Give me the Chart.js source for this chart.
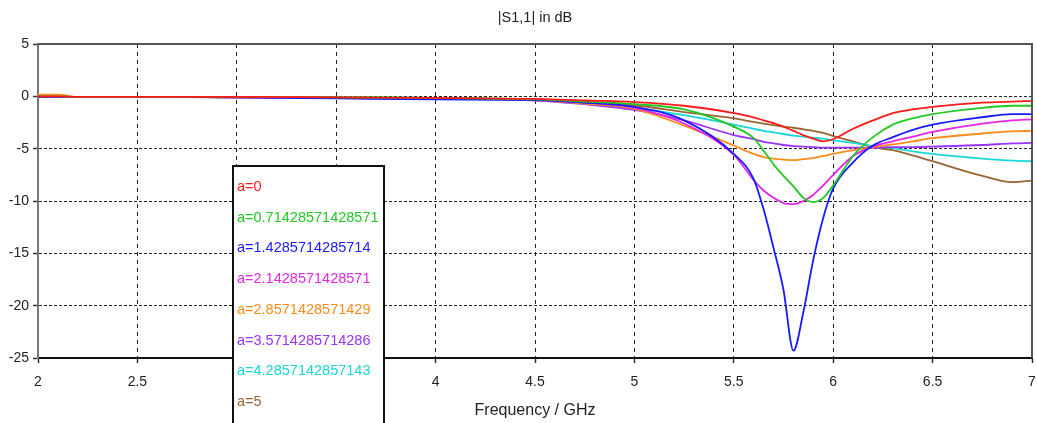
<!DOCTYPE html>
<html>
<head>
<meta charset="utf-8">
<title>|S1,1| in dB</title>
<script src="https://cdn.jsdelivr.net/npm/chart.js@4.4.1/dist/chart.umd.min.js"></script>
<style>
    html, body { margin: 0; padding: 0; background: #fff; }
    #wrap { position: relative; width: 1037px; height: 423px; }
</style>
</head>
<body>
<div id="wrap"><canvas id="s11Chart"></canvas></div>
<script>
// ==========================
// Data
// ==========================
const freqGHz = [2, 2.1, 2.2, 2.5, 3, 3.5, 4, 4.5, 4.75, 5, 5.25, 5.5, 5.6, 5.65, 5.7, 5.75, 5.8, 5.85, 5.9, 5.95, 6, 6.1, 6.2, 6.3, 6.4, 6.5, 6.75, 6.9, 7];

const xTicks = [2, 2.5, 3, 3.5, 4, 4.5, 5, 5.5, 6, 6.5, 7];
const yTicks = [5, 0, -5, -10, -15, -20, -25];

const seriesLabels = [
    "a=0", "a=0.71428571428571", "a=1.4285714285714", "a=2.1428571428571",
    "a=2.8571428571429", "a=3.5714285714286", "a=4.2857142857143", "a=5"
];
const seriesColors = ["#ff1a1a", "#22c922", "#1a1aff", "#e626e6", "#ff8c1a", "#9933ff", "#1ad6d6", "#996633"];

const s11_a0   = [0, 0, -0.05, -0.05, -0.05, -0.1, -0.15, -0.25, -0.4, -0.55, -0.9, -1.6, -2.0, -2.3, -2.55, -2.9, -3.3, -3.7, -4.05, -4.3, -4.1, -3.1, -2.3, -1.6, -1.25, -1.0, -0.6, -0.5, -0.45];
const s11_a071 = [0, 0, -0.05, -0.05, -0.05, -0.1, -0.15, -0.3, -0.5, -0.75, -1.25, -2.9, -4.0, -5.2, -6.5, -7.6, -8.6, -9.7, -10.1, -9.7, -8.5, -5.7, -3.9, -2.7, -2.1, -1.7, -1.1, -0.9, -0.9];
const s11_a143 = [-0.05, -0.05, -0.05, -0.05, -0.1, -0.2, -0.3, -0.35, -0.6, -1.0, -2.3, -5.5, -7.9, -10.8, -14.5, -18.5, -24.3, -20.6, -15.6, -11.6, -8.8, -6.3, -4.7, -3.9, -3.2, -2.7, -2.0, -1.7, -1.7];
const s11_a214 = [-0.05, -0.05, -0.05, -0.05, -0.1, -0.15, -0.2, -0.35, -0.6, -1.1, -2.6, -5.6, -8.0, -9.0, -9.7, -10.2, -10.3, -10.0, -9.4, -8.5, -7.5, -5.7, -4.8, -4.3, -3.85, -3.4, -2.6, -2.3, -2.2];
const s11_a286 = [0.15, 0.15, -0.05, -0.05, -0.1, -0.15, -0.2, -0.35, -0.7, -1.2, -2.8, -4.7, -5.5, -5.8, -5.95, -6.05, -6.1, -6.0, -5.9, -5.7, -5.5, -5.15, -4.85, -4.6, -4.3, -4.0, -3.55, -3.35, -3.3];
const s11_a357 = [-0.05, -0.05, -0.05, -0.05, -0.1, -0.15, -0.2, -0.4, -0.75, -1.3, -2.3, -3.7, -4.1, -4.35, -4.5, -4.65, -4.75, -4.8, -4.85, -4.9, -4.9, -4.9, -4.9, -4.85, -4.85, -4.8, -4.65, -4.5, -4.45];
const s11_a429 = [-0.05, -0.05, -0.05, -0.05, -0.1, -0.15, -0.2, -0.35, -0.6, -1.1, -1.8, -2.7, -3.1, -3.3, -3.45, -3.6, -3.75, -3.85, -3.95, -4.05, -4.2, -4.45, -4.75, -4.95, -5.25, -5.5, -5.95, -6.15, -6.2];
const s11_a5   = [-0.05, -0.05, -0.05, -0.05, -0.1, -0.1, -0.15, -0.3, -0.55, -0.85, -1.5, -2.1, -2.45, -2.6, -2.75, -2.9, -3.0, -3.15, -3.3, -3.5, -3.8, -4.3, -4.85, -5.15, -5.65, -6.2, -7.6, -8.2, -8.05];

const seriesValues = [s11_a0, s11_a071, s11_a143, s11_a214, s11_a286, s11_a357, s11_a429, s11_a5];

const chartTitle = "|S1,1| in dB";
const FONT = "'Liberation Sans', Arial, sans-serif";

// ==========================
// Plot frame (top / right edge) + title over the plot area
// ==========================
const plotFrame = {
    id: "plotFrame",
    afterDatasetsDraw(chart) {
        const { ctx, chartArea: a } = chart;
        ctx.save();
        ctx.strokeStyle = "#555";
        ctx.lineWidth = 2;
        ctx.beginPath();
        ctx.moveTo(a.left, a.top);
        ctx.lineTo(a.right, a.top);
        ctx.lineTo(a.right, a.bottom);
        ctx.stroke();

        ctx.fillStyle = "#222";
        ctx.font = "14.5px " + FONT;
        ctx.textAlign = "center";
        ctx.textBaseline = "middle";
        ctx.fillText(chartTitle, (a.left + a.right) / 2, 18);
        ctx.restore();
    }
};

// ==========================
// Boxed legend sitting on the plot
// ==========================
const boxLegend = {
    id: "boxLegend",
    afterDraw(chart) {
        const ctx = chart.ctx;
        ctx.save();
        ctx.fillStyle = "#fff";
        ctx.fillRect(233, 166, 151, 270);
        ctx.strokeStyle = "#111";
        ctx.lineWidth = 2;
        ctx.strokeRect(233, 166, 151, 270);
        ctx.font = "14.5px " + FONT;
        ctx.textBaseline = "middle";
        chart.data.datasets.forEach((ds, i) => {
            ctx.fillStyle = ds.borderColor;
            ctx.fillText(ds.label, 237, 187 + i * 30.7);
        });
        ctx.restore();
    }
};

const ctx = document.getElementById("s11Chart").getContext("2d");

new Chart(ctx, {
    type: "line",
    data: {
        datasets: seriesValues.map((vals, i) => ({
            label: seriesLabels[i],
            data: freqGHz.map((f, k) => ({ x: f, y: vals[k] })),
            borderColor: seriesColors[i],
            backgroundColor: seriesColors[i],
            borderWidth: 1.8,
            pointRadius: 0,
            cubicInterpolationMode: "monotone",
            fill: false
        }))
    },
    options: {
        responsive: true,
        maintainAspectRatio: false,
        animation: false,
        layout: { padding: { left: 0, right: 5, top: 44, bottom: 0 } },
        plugins: {
            legend: { display: false },
            tooltip: { enabled: false },
            title: { display: false }
        },
        scales: {
            x: {
                type: "linear",
                min: 2,
                max: 7,
                afterBuildTicks: s => { s.ticks = xTicks.map(v => ({ value: v })); },
                afterFit: s => {
                    s.height = 65;
                    s.paddingLeft = 0;
                    s.paddingRight = 0;
                },
                ticks: {
                    color: "#222",
                    font: { family: FONT, size: 14 },
                    padding: 11,
                    maxRotation: 0,
                    autoSkip: false,
                    callback: v => String(v)
                },
                grid: {
                    color: "#222",
                    lineWidth: 1,
                    tickLength: 5,
                    tickColor: "#333",
                    tickWidth: 1.5
                },
                border: { display: true, color: "#111", width: 2, dash: [4, 4] },
                title: {
                    display: true,
                    text: "Frequency / GHz",
                    color: "#222",
                    font: { family: FONT, size: 16 },
                    padding: { top: 0, bottom: 3 }
                }
            },
            y: {
                min: -25,
                max: 5,
                afterBuildTicks: s => { s.ticks = yTicks.map(v => ({ value: v })); },
                afterFit: s => {
                    s.width = 38;
                    s.paddingTop = 0;
                    s.paddingBottom = 0;
                },
                ticks: {
                    color: "#222",
                    font: { family: FONT, size: 14 },
                    padding: 4,
                    callback: v => String(v)
                },
                grid: {
                    color: "#222",
                    lineWidth: 1,
                    tickLength: 5,
                    tickColor: "#333",
                    tickWidth: 1.5
                },
                border: { display: true, color: "#777", width: 2, dash: [3, 2] }
            }
        }
    },
    plugins: [plotFrame, boxLegend]
});

console.log("S11 chart drawn");
</script>
</body>
</html>
